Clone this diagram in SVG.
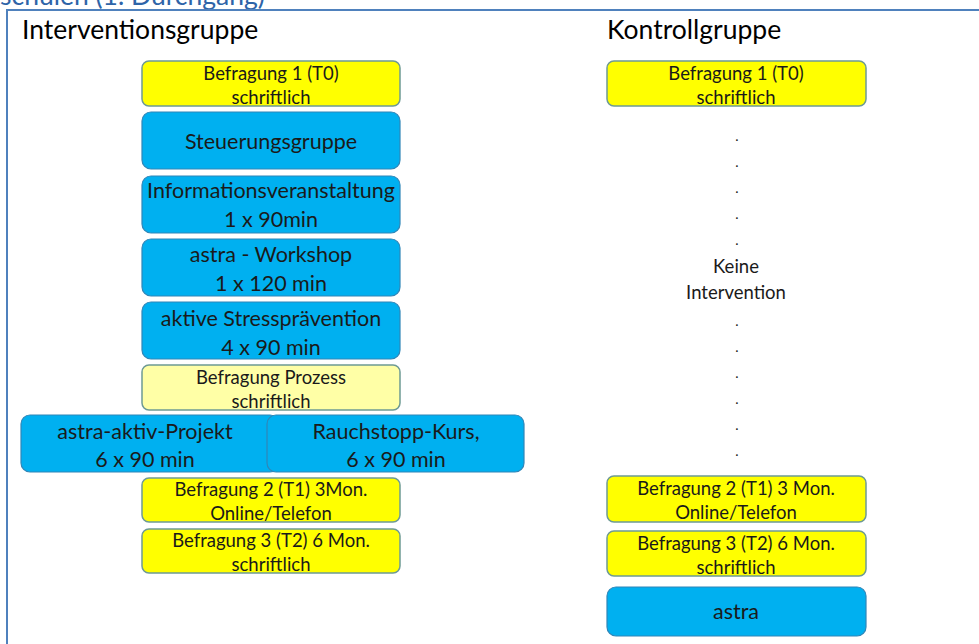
<svg xmlns="http://www.w3.org/2000/svg" width="979" height="644" viewBox="0 0 979 644">
<style>
.y{fill:#ffff00;stroke:#6e9a94;stroke-width:1.5}
.ly{fill:#ffffa6;stroke:#6e9a94;stroke-width:1.5}
.b{fill:#00b0f0;stroke:#2f86b8;stroke-width:1.2}
text{font-family:Lato,"Liberation Sans",sans-serif;text-anchor:middle;fill:#1a1a1a}
.s{font-size:18.5px}
.m{font-size:21.5px}
.h{font-size:26.5px;text-anchor:start;fill:#000}
.d{font-size:14px}
</style>
<rect width="979" height="644" fill="#fff"/>
<text x="0" y="5" class="h" style="fill:#2e64a8">schulen (1. Durchgang)</text>
<path d="M7 644V10H979" fill="none" stroke="#4f81bd" stroke-width="2"/>
<text x="22" y="39" class="h">Interventionsgruppe</text>
<text x="607" y="39" class="h">Kontrollgruppe</text>

<g id="i-t0"><rect class="y" x="142" y="61" width="258" height="45" rx="7"/><text class="s" x="271" y="79.5">Befragung 1 (T0)</text><text class="s" x="271" y="104">schriftlich</text></g>
<g id="i-steuer"><rect class="b" x="142" y="112" width="258" height="57" rx="9"/><text class="m" x="271" y="148.5">Steuerungsgruppe</text></g>
<g id="i-info"><rect class="b" x="142" y="176" width="258" height="57" rx="9"/><text class="m" x="271" y="197.5">Informationsveranstaltung</text><text class="m" x="271" y="226.5">1 x 90min</text></g>
<g id="i-workshop"><rect class="b" x="142" y="239" width="258" height="57" rx="9"/><text class="m" x="271" y="261.5">astra - Workshop</text><text class="m" x="271" y="290.5">1 x 120 min</text></g>
<g id="i-stress"><rect class="b" x="142" y="302" width="258" height="57" rx="9"/><text class="m" x="271" y="325.5">aktive Stressprävention</text><text class="m" x="271" y="354.5">4 x 90 min</text></g>
<g id="i-prozess"><rect class="ly" x="142" y="365" width="258" height="45" rx="7"/><text class="s" x="271" y="383.5">Befragung Prozess</text><text class="s" x="271" y="408">schriftlich</text></g>
<g id="i-aktiv"><rect class="b" x="21" y="415" width="258" height="57" rx="9"/><text class="m" x="145" y="438.5">astra-aktiv-Projekt</text><text class="m" x="145" y="466.5">6 x 90 min</text></g>
<g id="i-rauch"><rect class="b" x="267" y="415" width="257" height="57" rx="9"/><text class="m" x="396" y="438.5">Rauchstopp-Kurs,</text><text class="m" x="396" y="466.5">6 x 90 min</text></g>
<g id="i-t1"><rect class="y" x="142" y="478" width="258" height="44" rx="7"/><text class="s" x="271" y="495.5">Befragung 2 (T1) 3Mon.</text><text class="s" x="271" y="519.5">Online/Telefon</text></g>
<g id="i-t2"><rect class="y" x="142" y="529" width="258" height="44" rx="7"/><text class="s" x="271" y="546.5">Befragung 3 (T2) 6 Mon.</text><text class="s" x="271" y="570.5">schriftlich</text></g>

<g id="k-t0"><rect class="y" x="607" y="61" width="259" height="45" rx="7"/><text class="s" x="736" y="79.5">Befragung 1 (T0)</text><text class="s" x="736" y="104">schriftlich</text></g>
<g id="k-none">
<text class="d" x="737" y="141">.</text><text class="d" x="737" y="167">.</text><text class="d" x="737" y="193">.</text><text class="d" x="737" y="219">.</text><text class="d" x="737" y="245">.</text>
<text class="s" x="736" y="272.5">Keine</text><text class="s" x="736" y="298.5">Intervention</text>
<text class="d" x="737" y="326">.</text><text class="d" x="737" y="352">.</text><text class="d" x="737" y="378">.</text><text class="d" x="737" y="404">.</text><text class="d" x="737" y="430">.</text><text class="d" x="737" y="456">.</text>
</g>
<g id="k-t1"><rect class="y" x="607" y="476" width="259" height="46" rx="7"/><text class="s" x="736" y="494.5">Befragung 2 (T1) 3 Mon.</text><text class="s" x="736" y="519">Online/Telefon</text></g>
<g id="k-t2"><rect class="y" x="607" y="531" width="259" height="45" rx="7"/><text class="s" x="736" y="549.5">Befragung 3 (T2) 6 Mon.</text><text class="s" x="736" y="574">schriftlich</text></g>
<g id="k-astra"><rect class="b" x="607" y="587" width="259" height="49" rx="9"/><text class="m" x="736" y="618.5">astra</text></g>
<g id="connectors"/>
</svg>
